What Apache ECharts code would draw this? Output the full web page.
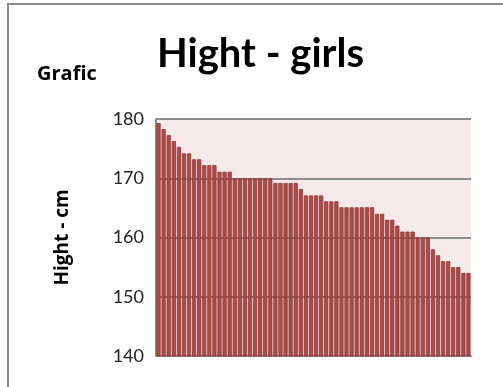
<!DOCTYPE html>
<html>
<head>
<meta charset="utf-8">
<script src="https://cdn.jsdelivr.net/npm/echarts@6/dist/echarts.min.js"></script>
<style>html,body{margin:0;padding:0;background:#fff;}#c{width:503px;height:387px;}</style>
</head>
<body>
<div id="c"></div>
<script>
var titleText = 'Hight - girls';
var subText = 'Grafic';
var yAxisName = 'Hight - cm';
var yTicks = [140, 150, 160, 170, 180];
var heights = [
  179.3, 178.3, 177.3, 176.3, 175.3,
  174.2, 174.2, 173.2, 173.2,
  172.2, 172.2, 172.2, 171.1, 171.1, 171.1,
  170, 170, 170, 170, 170, 170, 170, 170,
  169.2, 169.2, 169.2, 169.2, 169.2,
  168.2,
  167.1, 167.1, 167.1, 167.1,
  166.1, 166.1, 166.1,
  165.1, 165.1, 165.1, 165.1, 165.1, 165.1, 165.1,
  164, 164, 163, 163, 162,
  161, 161, 161, 160, 160, 160,
  158, 157, 156, 156, 155, 155, 154, 154
];
var categories = heights.map(function (v, i) { return String(i + 1); });

var chart = echarts.init(document.getElementById('c'));
chart.setOption({
  animation: false,
  backgroundColor: '#fff',
  title: {
    text: titleText,
    left: 152,
    top: 29,
    textStyle: { fontFamily: 'Lato', fontWeight: 'bold', fontSize: 40, color: '#000' }
  },
  graphic: [
    { type: 'rect', shape: { x: 8, y: 4, width: 600, height: 500 }, style: { fill: 'none', stroke: '#8a8a8a', lineWidth: 2 }, silent: true, z: -1 },
    { type: 'text', left: 37, top: 64, style: { text: subText, font: 'bold 20px "Open Sans"', fill: '#000' } }
  ],
  grid: { left: 156, top: 119, width: 315, height: 237, show: true, backgroundColor: '#F6E9E9', borderWidth: 0 },
  xAxis: {
    type: 'category',
    data: categories,
    axisLine: { show: true, lineStyle: { color: '#8c8c8c', width: 2 } },
    axisTick: { show: false },
    axisLabel: { show: false }
  },
  yAxis: {
    type: 'value',
    min: yTicks[0],
    max: yTicks[yTicks.length - 1],
    interval: 10,
    name: yAxisName,
    nameLocation: 'middle',
    nameGap: 84,
    nameTextStyle: { fontFamily: 'Open Sans', fontWeight: 'bold', fontSize: 19, color: '#000' },
    axisLine: { show: true, lineStyle: { color: '#8c8c8c', width: 2 } },
    axisTick: { show: false },
    axisLabel: { margin: 12, fontFamily: 'Lato', fontSize: 18, color: '#222' },
    splitLine: { show: true, lineStyle: { color: '#8c8c8c', width: 2 } }
  },
  series: [{
    type: 'bar',
    data: heights,
    barCategoryGap: '18%',
    itemStyle: { color: '#A94442', borderColor: '#8A2E2C', borderWidth: 0.8, opacity: 0.95 }
  }]
});
</script>
</body>
</html>
